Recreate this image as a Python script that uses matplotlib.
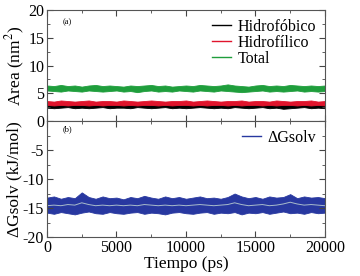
import matplotlib
matplotlib.use("Agg")
import matplotlib.pyplot as plt
from matplotlib.ticker import MultipleLocator
import numpy as np

plt.rcParams['font.family'] = ['Liberation Serif', 'DejaVu Serif']
plt.rcParams['mathtext.fontset'] = 'stix'
plt.rcParams['axes.unicode_minus'] = False

# time axis (ps), one value every 500 ps
tiempo = np.arange(0, 20001, 500)

# area envelopes (nm^2)
hidrofobico_hi = [3.0, 2.9, 3.0, 2.9, 3.0, 2.9, 3.0, 3.0, 2.9, 3.0, 2.9, 3.0, 2.9, 3.0, 3.0, 2.9,
                  3.0, 2.9, 3.0, 2.9, 3.0, 3.0, 2.9, 3.0, 2.9, 3.0, 2.9, 3.0, 3.0, 2.9, 3.0, 2.9,
                  3.0, 2.9, 3.0, 3.0, 2.9, 3.0, 2.9, 3.0, 2.9]
hidrofobico_lo = [2.4, 2.3, 2.4, 2.5, 2.3, 2.4, 2.3, 2.4, 2.5, 2.3, 2.4, 2.4, 2.3, 2.5, 2.4, 2.3,
                  2.4, 2.5, 2.3, 2.4, 2.3, 2.4, 2.5, 2.4, 2.3, 2.4, 2.3, 2.5, 2.4, 2.3, 2.4, 2.5,
                  2.3, 2.4, 2.2, 2.3, 2.4, 2.5, 2.3, 2.4, 2.3]
hidrofilico_hi = [3.6, 3.5, 3.7, 3.6, 3.5, 3.6, 3.7, 3.5, 3.6, 3.6, 3.5, 3.7, 3.6, 3.5, 3.6, 3.7,
                  3.6, 3.5, 3.6, 3.6, 3.7, 3.5, 3.6, 3.7, 3.6, 3.5, 3.6, 3.6, 3.7, 3.5, 3.6, 3.6,
                  3.5, 3.7, 3.6, 3.5, 3.6, 3.6, 3.7, 3.5, 3.6]
hidrofilico_lo = [2.9, 2.8, 2.9, 2.8, 2.9, 2.9, 2.8, 2.9, 2.8, 2.9, 2.9, 2.8, 2.9, 2.8, 2.9, 2.9,
                  2.8, 2.9, 2.8, 2.9, 2.9, 2.8, 2.9, 2.8, 2.9, 2.9, 2.8, 2.9, 2.8, 2.9, 2.9, 2.8,
                  2.9, 2.8, 2.9, 2.9, 2.8, 2.9, 2.8, 2.9, 2.8]
total_hi = [6.4, 6.3, 6.5, 6.3, 6.4, 6.2, 6.4, 6.5, 6.3, 6.4, 6.3, 6.2, 6.4, 6.3, 6.4, 6.5,
            6.3, 6.4, 6.2, 6.3, 6.4, 6.3, 6.5, 6.4, 6.3, 6.4, 6.6, 6.4, 6.3, 6.2, 6.4, 6.5,
            6.3, 6.4, 6.3, 6.5, 6.4, 6.3, 6.4, 6.3, 6.4]
total_lo = [5.5, 5.4, 5.3, 5.5, 5.4, 5.3, 5.5, 5.4, 5.3, 5.4, 5.5, 5.3, 5.4, 5.2, 5.4, 5.5,
            5.3, 5.4, 5.3, 5.5, 5.4, 5.3, 5.5, 5.4, 5.3, 5.5, 5.4, 5.3, 5.2, 5.3, 5.4, 5.5,
            5.3, 5.4, 5.3, 5.4, 5.5, 5.3, 5.4, 5.3, 5.4]

# solvation free energy (kJ/mol)
dg_hi = [-13.2, -13.0, -13.4, -13.1, -13.3, -12.3, -13.1, -13.4, -13.0, -13.3, -13.2, -13.5,
         -13.1, -13.3, -12.9, -13.2, -13.4, -13.0, -13.3, -13.1, -13.4, -13.2, -13.0, -13.3,
         -13.2, -13.4, -13.1, -12.5, -13.0, -13.3, -13.1, -13.4, -13.0, -13.2, -13.1, -12.6,
         -13.3, -13.0, -13.2, -13.1, -13.3]
dg_lo = [-15.8, -16.0, -15.7, -15.9, -16.1, -15.8, -15.6, -15.9, -16.0, -15.7, -15.9, -16.0,
         -15.8, -15.7, -16.0, -15.8, -15.9, -16.1, -15.8, -15.7, -15.9, -16.0, -15.8, -15.7,
         -16.0, -15.8, -15.9, -15.7, -16.1, -15.8, -15.9, -15.7, -16.0, -15.8, -15.6, -15.9,
         -15.8, -16.0, -15.7, -15.9, -15.8]
dg_media = [-14.6, -14.5, -14.6, -14.4, -14.5, -14.1, -14.4, -14.6, -14.5, -14.6, -14.5, -14.6,
            -14.5, -14.6, -14.4, -14.5, -14.6, -14.5, -14.6, -14.5, -14.6, -14.5, -14.4, -14.5,
            -14.6, -14.5, -14.4, -14.1, -14.4, -14.6, -14.5, -14.4, -14.6, -14.5, -14.3, -14.0,
            -14.3, -14.5, -14.4, -14.5, -14.6]

c_black = '#000000'
c_red = '#e0142c'
c_green = '#1f9e3c'
c_blue = '#2838a0'

fig = plt.figure(figsize=(3.6, 2.76), dpi=100)
ax1 = fig.add_axes([0.1306, 0.5616, 0.772, 0.402])
ax2 = fig.add_axes([0.1306, 0.1413, 0.772, 0.420])

ax1.fill_between(tiempo, hidrofobico_lo, hidrofobico_hi, color=c_black, lw=0.6)
ax1.fill_between(tiempo, hidrofilico_lo, hidrofilico_hi, color=c_red, lw=0.6)
ax1.fill_between(tiempo, total_lo, total_hi, color=c_green, lw=0.6)
ax1.plot([], [], color=c_black, lw=1, label='Hidrofóbico')
ax1.plot([], [], color=c_red, lw=1, label='Hidrofílico')
ax1.plot([], [], color=c_green, lw=1, label='Total')

ax2.fill_between(tiempo, dg_lo, dg_hi, color=c_blue, lw=0.6)
ax2.plot(tiempo, dg_media, color='#a8bccb', lw=0.7)
ax2.plot([], [], color=c_blue, lw=1, label='ΔGsolv')

for ax in (ax1, ax2):
    ax.set_xlim(0, 20000)
    ax.xaxis.set_major_locator(MultipleLocator(5000))
    ax.xaxis.set_minor_locator(MultipleLocator(2500))
    ax.yaxis.set_major_locator(MultipleLocator(5))
    ax.yaxis.set_minor_locator(MultipleLocator(2.5))
    ax.tick_params(which='both', direction='in', top=True, right=True,
                   labelsize=11.5, pad=2, color='#444444')
    ax.tick_params(which='major', length=4)
    ax.tick_params(which='minor', length=2)
    for s in ax.spines.values():
        s.set_color('#555555')
        s.set_linewidth(0.8)
    ax.legend(loc='upper right', frameon=False, fontsize=11.5, handlelength=1.2,
              handletextpad=0.4, labelspacing=0.0, borderaxespad=0.15)

ax1.set_ylim(0, 20)
ax1.set_yticks([0, 5, 10, 15, 20])
ax1.tick_params(labelbottom=False)
ax1.set_ylabel('Area (nm$^2$)', fontsize=12.5, labelpad=1)
ax1.text(0.055, 0.87, '(a)', transform=ax1.transAxes, fontsize=6)

ax2.set_ylim(-20, 0)
ax2.set_yticks([-20, -15, -10, -5])
ax2.set_ylabel('ΔGsolv (kJ/mol)', fontsize=12.5, labelpad=0)
ax2.set_xlabel('Tiempo (ps)', fontsize=12.5, labelpad=0)
ax2.text(0.055, 0.91, '(b)', transform=ax2.transAxes, fontsize=6)

fig.savefig('out.png', dpi=100)
